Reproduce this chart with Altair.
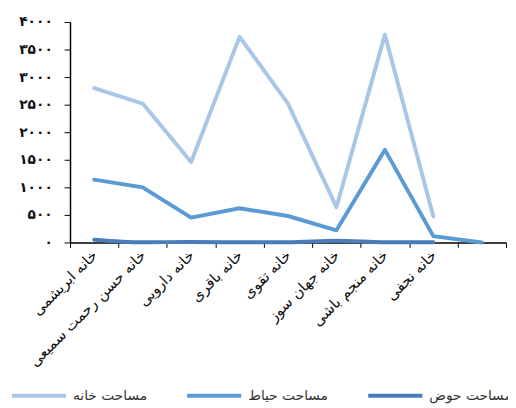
import altair as alt
import pandas as pd

categories = [
    "خانه ابریشمی",
    "خانه حسن رحمت سمیعی",
    "خانه دارویی",
    "خانه باقری",
    "خانه تقوی",
    "خانه جهان سوز",
    "خانه منجم باشی",
    "خانه نجفی",
    " ",
]
house_area = [2800, 2520, 1460, 3730, 2520, 640, 3770, 470, None]
yard_area = [1140, 1000, 450, 620, 480, 220, 1680, 115, 0]
pool_area = [50, 3, 8, 3, 3, 30, 5, 3, None]

series_names = ["مساحت خانه", "مساحت حیاط", "مساحت حوض"]
series_colors = ["#A9C6E8", "#5B9BD5", "#4A7EBB"]
y_ticks = [0, 500, 1000, 1500, 2000, 2500, 3000, 3500, 4000]

rows = []
for name, vals in zip(series_names, [house_area, yard_area, pool_area]):
    for i, (c, v) in enumerate(zip(categories, vals)):
        if v is not None:
            rows.append({"house": c, "series": name, "value": v, "idx": i})
df = pd.DataFrame(rows)

persian = "۰۱۲۳۴۵۶۷۸۹"
expr = "datum.label"
for d in range(10):
    expr = f"replace({expr}, regexp('{d}', 'g'), '{persian[d]}')"

x_enc = alt.X(
    "house:N",
    sort=categories,
    bandPosition=0.5,
    scale=alt.Scale(type="band", paddingInner=0, paddingOuter=0),
    axis=alt.Axis(
        title=None,
        labelAngle=-45,
        labelAlign="right",
        labelBaseline="middle",
        labelFontSize=15,
        labelFont="DejaVu Sans",
        labelColor="#111",
        labelPadding=5,
        labelLimit=300,
        tickBand="extent",
        tickSize=5,
        tickColor="#000",
        domainColor="#000",
        domainWidth=1.5,
        grid=False,
    ),
)
y_enc = alt.Y(
    "value:Q",
    scale=alt.Scale(domain=[0, 4000], nice=False),
    axis=alt.Axis(
        title=None,
        values=y_ticks,
        format="d",
        labelExpr=expr,
        labelFontSize=14,
        labelFontWeight="bold",
        labelFont="DejaVu Sans",
        labelColor="#111",
        labelPadding=12,
        tickSize=6,
        tickColor="#000",
        domainColor="#000",
        domainWidth=1.5,
        grid=False,
    ),
)
color_enc = alt.Color(
    "series:N",
    scale=alt.Scale(domain=series_names, range=series_colors),
    legend=alt.Legend(
        title=None,
        orient="none",
        direction="horizontal",
        legendX=-61,
        legendY=350,
        symbolType="stroke",
        symbolSize=3025,
        symbolStrokeWidth=4,
        labelFontSize=14,
        labelFont="DejaVu Sans",
        labelColor="#333",
        labelOffset=5,
        columnPadding=32,
        labelLimit=200,
    ),
)

base = alt.Chart(df)
straight = base.transform_filter(
    alt.FieldOneOfPredicate(field="series", oneOf=series_names[:2])
).mark_line(strokeWidth=4, strokeCap="round", strokeJoin="round").encode(
    x=x_enc, y=y_enc, color=color_enc, order="idx:Q"
)
smooth = base.transform_filter(
    alt.FieldEqualPredicate(field="series", equal=series_names[2])
).mark_line(strokeWidth=4, strokeCap="round", interpolate="monotone").encode(
    x=x_enc, y=y_enc, color=color_enc, order="idx:Q"
)

chart = alt.layer(straight, smooth).properties(
    width=443,
    height=224,
    autosize=alt.AutoSizeParams(type="none"),
    padding={"left": 63, "top": 11, "right": 2, "bottom": 165},
).configure_view(stroke=None)

chart.save("out.html", embed_options={"renderer": "svg", "actions": False})
